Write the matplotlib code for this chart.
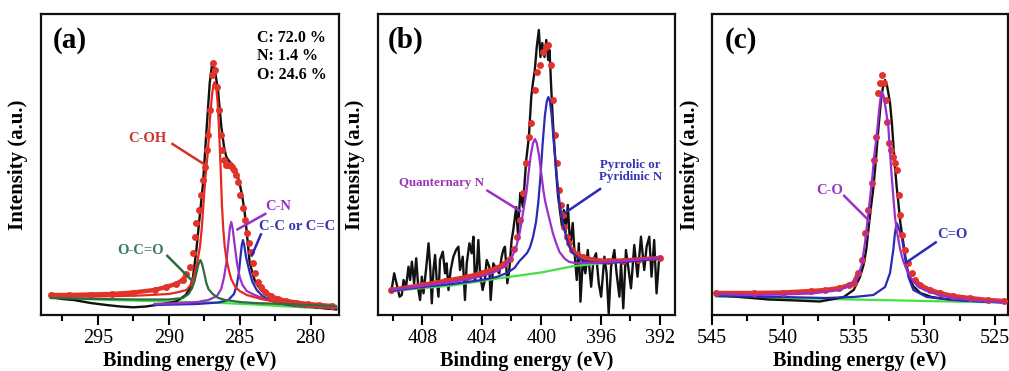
import matplotlib
matplotlib.use("Agg")
import matplotlib.pyplot as plt
import numpy as np
from matplotlib.ticker import MultipleLocator

plt.rcParams['font.family'] = ['Liberation Serif', 'DejaVu Serif']

# ---------------- Panel (a): C 1s ----------------
a_black_x = [298.3, 297.5, 296.7, 295.5, 294.4, 293.4, 292.5, 291.6, 290.9, 290.0, 289.5, 289.2, 288.8, 288.5,
             288.29, 288.05, 287.82, 287.58, 287.35, 287.11, 286.95, 286.88, 286.75, 286.53, 286.29, 286.1, 285.94,
             285.7, 285.47, 285.3, 285.12, 284.95, 284.81, 284.65, 284.53, 284.3, 284.1, 283.9, 283.5, 283.1, 282.5,
             281.5, 280.5, 279.5, 278.2]
a_black_y = [18, 16, 15, 12, 10, 8.5, 7.7, 8.5, 10, 12, 13.5, 16, 20, 27,
             38, 65, 98, 132, 182, 232, 250, 252, 245, 225, 188, 168, 158,
             153, 150, 145, 138, 128, 118, 103, 87, 53, 42, 33, 25, 20, 16,
             12, 9.5, 7.5, 5.5]

a_fit_x = [298.3, 297, 295.5, 294, 292.5, 291, 290.2, 289.5, 289.0, 288.75, 288.5, 288.3, 288.17, 288.05, 287.9,
           287.75, 287.6, 287.46, 287.33, 287.2, 287.07, 286.95, 286.85, 286.72, 286.6, 286.47, 286.35, 286.22,
           286.1, 285.95, 285.82, 285.7, 285.55, 285.4, 285.25, 285.1, 284.95, 284.8, 284.65, 284.5, 284.35, 284.2,
           284.05, 283.9, 283.7, 283.5, 283.2, 282.8, 282.3, 281.7, 281, 280.2, 279.4, 278.5]
a_fit_y = [20, 20, 20.5, 21, 22.5, 25, 28, 31, 35, 41, 48, 62, 78, 92, 105,
           120, 135, 148, 165, 180, 205, 240, 252, 245, 228, 205, 180, 165,
           155, 150, 150, 150, 148, 145, 140, 133, 120, 107, 95, 82, 72, 63,
           52, 42, 33, 28, 23, 19, 16, 14, 12.5, 11, 10, 9]

a_coh_x = [298.3, 295, 292, 290, 289.3, 288.75, 288.4, 288.2, 288.0, 287.8, 287.65, 287.52, 287.4, 287.23, 287.1,
           286.95, 286.85, 286.76, 286.65, 286.55, 286.45, 286.35, 286.25, 286.15, 286.05, 285.94, 285.75, 285.6,
           285.3, 285.0, 284.5, 283.5, 282.4, 281, 279.5, 278.2]
a_coh_y = [18, 18.5, 19.5, 21, 23, 25, 31, 40, 52, 68, 90, 118, 140, 165, 195,
           220, 230, 233, 228, 212, 185, 150, 110, 85, 68, 57, 44, 36,
           28, 24, 20, 16, 13, 10, 8, 7]

a_oco_x = [298.3, 295, 292, 290, 289, 288.6, 288.35, 288.2, 288.05, 287.9, 287.77, 287.65, 287.5, 287.35, 287.2,
           286.9, 286.5, 286, 285, 284, 282, 280, 278.2]
a_oco_y = [17, 16, 15.5, 15.5, 17, 21, 27, 33, 42, 51, 55, 51, 42, 32, 26,
           21, 17, 15, 13, 12, 11, 10, 9]

a_cn_x = [291, 289, 288, 287.2, 286.6, 286.3, 286.1, 285.94, 285.8, 285.68, 285.59, 285.5, 285.35, 285.19, 285.0,
          284.8, 284.5, 284.1, 283.6, 283, 282, 281, 280, 279, 278.2]
a_cn_y = [11, 12, 13, 15, 19, 26, 38, 52, 72, 88, 93, 87, 70, 52, 38,
          30, 24, 21, 18, 15, 12, 10, 8.5, 7.5, 7]

a_cc_x = [291, 288, 286.5, 285.8, 285.4, 285.2, 285.05, 284.93, 284.85, 284.77, 284.68, 284.55, 284.42, 284.3,
          284.1, 283.8, 283.4, 282.7, 282, 281, 280, 279, 278.2]
a_cc_y = [10, 11, 12.5, 15, 21, 30, 43, 60, 70, 75, 70, 58, 50, 43,
          33, 25, 19, 14, 11, 9, 8, 7, 6.5]

a_base_x = [298.3, 294, 290, 287, 284, 281, 278.2]
a_base_y = [17, 15, 13.5, 12.5, 10.5, 8, 6]

a_comp_text = ["C: 72.0 %", "N: 1.4 %", "O: 24.6 %"]

# ---------------- Panel (b): N 1s ----------------
b_black_x = [410.05, 409.89, 409.71, 409.53, 409.38, 409.26, 409.09, 408.93, 408.82, 408.7, 408.55, 408.41, 408.26,
             408.15, 408.03, 407.92, 407.74, 407.58, 407.47, 407.36, 407.25, 407.14, 407.03, 406.91, 406.81, 406.62,
             406.47, 406.36, 406.24, 406.09, 405.91, 405.73, 405.57, 405.46, 405.28, 405.13, 405.01, 404.83, 404.68,
             404.56, 404.46, 404.34, 404.23, 404.12, 403.94, 403.79, 403.67, 403.49, 403.4, 403.22, 403.0, 402.82,
             402.66, 402.55, 402.44, 402.28, 402.15, 401.99, 401.88, 401.68, 401.57, 401.41, 401.23, 401.01, 400.83,
             400.67, 400.56, 400.43, 400.3, 400.16, 400.05, 399.93, 399.78, 399.66, 399.53, 399.44, 399.33, 399.22,
             399.11, 398.99, 398.86, 398.72, 398.59, 398.48, 398.37, 398.21, 398.05, 397.88, 397.77, 397.61, 397.47,
             397.36, 397.2, 397.03, 396.87, 396.64, 396.49, 396.31, 396.13, 395.97, 395.75, 395.6, 395.46, 395.3,
             395.08, 394.93, 394.74, 394.63, 394.48, 394.3, 394.12, 393.96, 393.74, 393.52, 393.29, 393.07, 392.91,
             392.73, 392.58, 392.4, 392.24, 392.06, 391.95]
b_black_y = [26.7, 41.7, 30, 18.3, 20, 35, 28.3, 48.3, 35, 53.3, 31.7, 56.7, 25,
             15, 38.3, 21.7, 46.7, 71.7, 48.3, 11.7, 45, 60, 35, 18.3, 55, 63.3,
             41.7, 51.7, 25, 45, 58.3, 65, 68.3, 45, 58.3, 15, 51.7, 71.7, 61.7,
             78.3, 35, 45, 75, 41.7, 25, 35, 55, 48.3, 15, 51.7, 45, 41.7,
             58.3, 65, 68.3, 31.7, 45, 75, 85, 108, 82, 122, 108, 155, 178,
             218, 232, 245, 268, 285, 258, 272, 258, 275, 255, 265, 228, 195,
             168, 142, 118, 102, 88, 105, 82, 110, 68, 92, 65, 35, 71.7,
             13.3, 55, 41.7, 65, 28.3, 55, 61.7, 31.7, 18.3, 58.3, 41.7, 1.7, 48.3,
             65, 41.7, 18.3, 51.7, 6.7, 65, 45, 26.7, 70, 38.3, 78.3, 45, 68.3,
             78.3, 38.3, 75, 21.7, 58.3, 55]

b_fit_x = [410.1, 408, 406.5, 405, 404, 403, 402.5, 402.1, 401.8, 401.6, 401.4, 401.23, 401.0, 400.8, 400.67,
           400.45, 400.25, 400.1, 399.9, 399.7, 399.56, 399.37, 399.2, 399.05, 398.93, 398.82, 398.68, 398.55,
           398.44, 398.25, 398.1, 397.9, 397.6, 397.2, 396.5, 395.5, 394.5, 393.5, 392]
b_fit_y = [25, 30, 34, 38, 42, 47, 51, 56, 66, 78, 95, 122, 152, 178, 192,
           225, 243, 250, 263, 268, 270, 250, 215, 180, 152, 125, 110, 100,
           88, 78, 72, 65, 61, 58, 55, 54, 54.5, 55.5, 57]

b_quat_x = [410.1, 408, 406, 404.5, 403.3, 402.5, 402.0, 401.7, 401.45, 401.3, 401.12, 401.0, 400.85, 400.7,
            400.55, 400.42, 400.3, 400.15, 400.0, 399.85, 399.71, 399.55, 399.4, 399.22, 399.0, 398.77, 398.4,
            398.1, 397.7, 397, 396, 395, 394, 393, 392]
b_quat_y = [25, 29, 33, 37, 42, 48, 57, 67, 82, 95, 112, 122, 142, 160,
            172, 176, 172, 160, 142, 124, 112, 102, 93, 82, 72, 63, 56,
            53, 52, 52, 52.5, 53.5, 54.5, 56, 57]

b_pyr_x = [410.1, 408, 406, 404, 403, 402.3, 401.8, 401.46, 401.2, 400.95, 400.75, 400.55, 400.35, 400.2, 400.07,
           399.9, 399.75, 399.62, 399.52, 399.42, 399.3, 399.15, 398.93, 398.75, 398.55, 398.32, 398.1, 397.88,
           397.43, 397, 396, 395, 394, 393, 392]
b_pyr_y = [24, 28, 31, 35, 38, 42, 47, 54, 58, 62, 68, 78, 93, 112, 135,
           172, 200, 214, 218, 214, 200, 172, 135, 110, 92, 78, 68, 62,
           56, 53.5, 52, 52.5, 53.5, 55, 57]

b_base_x = [410.1, 406, 402.7, 400, 397.8, 395, 392]
b_base_y = [24, 29.5, 37, 42.5, 49, 53, 57]

# ---------------- Panel (c): O 1s ----------------
c_black_x = [544.7, 543, 541, 539, 537.4, 536.4, 535.7, 535.0, 534.55, 534.3, 534.1, 533.96, 533.8, 533.6, 533.43,
             533.26, 533.1, 533.0, 532.9, 532.78, 532.65, 532.55, 532.43, 532.3, 532.2, 532.08, 531.96, 531.84,
             531.7, 531.49, 531.25, 531.0, 530.8, 530.3, 529.5, 528.5, 527, 525.5, 524.4]
c_black_y = [20, 18, 15.5, 14.5, 13.5, 16, 18, 25, 38, 50, 66, 85, 105, 128, 155,
             185, 210, 222, 230, 235, 230, 222, 212, 192, 172, 148, 128, 112,
             92, 72, 48, 36, 29, 22, 18, 16, 14.5, 13.5, 13]

c_fit_x = [544.7, 542, 540, 538, 537, 536, 535.3, 535.0, 534.67, 534.43, 534.2, 533.96, 533.72, 533.55, 533.4,
           533.26, 533.12, 533.0, 532.85, 532.72, 532.62, 532.48, 532.34, 532.2, 532.08, 531.96, 531.8, 531.72,
           531.6, 531.37, 531.13, 530.9, 530.7, 530.3, 529.6, 528.9, 528, 526.8, 525.5, 524.4]
c_fit_y = [22, 22, 22.5, 24, 25, 27, 30, 32, 42, 55, 82, 105, 132, 155, 178,
           222, 232, 240, 232, 215, 193, 172, 165, 158, 152, 145, 120, 100,
           80, 65, 52, 42, 35, 30, 25, 22, 19, 17, 15, 14]

c_co_x = [544.7, 542, 540, 538, 536.5, 536, 535.3, 534.8, 534.43, 534.2, 533.96, 533.72, 533.55, 533.37, 533.2,
          533.1, 533.0, 532.9, 532.75, 532.55, 532.31, 532.08, 531.9, 531.72, 531.5, 531.25, 530.9, 530.5, 530,
          529, 528, 526.8, 525.5, 524.4]
c_co_y = [21, 20, 20.5, 21.5, 24, 25, 29, 35, 50, 72, 102, 132, 158, 180, 205,
          217, 223, 220, 208, 188, 138, 98, 80, 66, 54, 45, 36, 29, 25,
          20, 17, 15, 13.5, 12.5]

c_c2o_x = [544.7, 540, 537, 535, 533.6, 532.78, 532.43, 532.2, 532.08, 531.96, 531.84, 531.6, 531.37, 531.13,
           530.78, 529.84, 528, 526, 524.4]
c_c2o_y = [19, 18, 17, 18, 20, 28, 42, 65, 82, 92, 88, 78, 58, 38,
           25, 18, 15, 13.5, 12.5]

c_base_x = [544.7, 540, 535, 530, 524.4]
c_base_y = [18.5, 17, 15.5, 14, 12.5]

# ---------------- styling ----------------
BLACK = '#111111'
RED = '#e8281e'
DOT = '#e2332b'
DKGREEN = '#2e6b40'
PURPLE = '#9a30c8'
BLUE = '#2a2ab4'
LIME = '#44e044'

fig = plt.figure(figsize=(10.09, 3.71), dpi=100)
W, H = 1009.0, 371.0
bottom = 1 - 315 / H
height = 301 / H
ax_a = fig.add_axes([41 / W, bottom, 298 / W, height])
ax_b = fig.add_axes([377.7 / W, bottom, 297.3 / W, height])
ax_c = fig.add_axes([712 / W, bottom, 296 / W, height])


def style(ax, xlim, major, minor):
    ax.set_xlim(*xlim)
    ax.set_ylim(0, 301)
    ax.xaxis.set_major_locator(MultipleLocator(major))
    ax.xaxis.set_minor_locator(MultipleLocator(minor))
    ax.set_yticks([])
    for s in ax.spines.values():
        s.set_linewidth(1.6)
        s.set_color('#111111')
    ax.tick_params(axis='x', which='major', direction='out', length=7, width=1.5,
                   labelsize=14.5, pad=3, top=False)
    ax.tick_params(axis='x', which='minor', direction='out', length=4.5, width=1.5, top=False)
    ax.set_xlabel('Binding energy (eV)', fontsize=14.5, fontweight='bold', labelpad=2)
    ax.set_ylabel('Intensity (a.u.)', fontsize=15, fontweight='bold', labelpad=9)


def fit(ax, x, y, tail_hi, tail_lo, z=6):
    # fitted envelope drawn as dots; dense dots in the slowly varying tails read as a thick band
    x = np.asarray(x, float)
    y = np.asarray(y, float)
    hi = x >= tail_hi
    lo = x <= tail_lo
    ax.plot(x[hi], y[hi], color=DOT, lw=3.2, zorder=z, solid_capstyle='round')
    ax.plot(x[lo], y[lo], color=DOT, lw=3.2, zorder=z, solid_capstyle='round')
    ax.plot(x, y, 'o', color=DOT, ms=5, mew=0, zorder=z)


def leader(ax, p0, p1, color):
    ax.plot([p0[0], p1[0]], [p0[1], p1[1]], color=color, lw=1.8, zorder=8, solid_capstyle='butt')


lab_kw = dict(fontweight='bold', ha='center', va='center', zorder=9)

# ---- (a)
ax = ax_a
ax.plot(a_base_x, a_base_y, color=LIME, lw=1.6, zorder=2)
ax.plot(a_black_x, a_black_y, color=BLACK, lw=1.7, zorder=3)
ax.plot(a_cc_x, a_cc_y, color=BLUE, lw=1.6, zorder=4)
ax.plot(a_cn_x, a_cn_y, color=PURPLE, lw=1.6, zorder=4)
ax.plot(a_coh_x, a_coh_y, color=RED, lw=1.6, zorder=5)
fit(ax, a_fit_x, a_fit_y, 288.7, 283.6)
ax.plot(a_oco_x, a_oco_y, color=DKGREEN, lw=1.6, zorder=7)
style(ax, (299, 278), 5, 2.5)
ax.text(296.97, 275, '(a)', fontsize=21, fontweight='bold', ha='center', va='center')
for i, t in enumerate(a_comp_text):
    ax.text(283.8, [277, 259, 240][i], t, fontsize=11.5, fontweight='bold', ha='left', va='center')
ax.text(291.48, 176, 'C-OH', color='#d0302a', fontsize=10.5, **lab_kw)
leader(ax, (289.81, 171.7), (287.42, 150), '#d8302a')
ax.text(282.32, 108, 'C-N', color=PURPLE, fontsize=10.5, **lab_kw)
leader(ax, (283.12, 101.7), (285.23, 85), PURPLE)
ax.text(280.92, 88, 'C-C or C=C', color='#3333b4', fontsize=10.5, **lab_kw)
leader(ax, (283.47, 81.7), (284.18, 58.3), BLUE)
ax.text(291.97, 65, 'O-C=O', color='#3a7d5c', fontsize=10.5, **lab_kw)
leader(ax, (290.16, 60), (288.4, 35), DKGREEN)

# ---- (b)
ax = ax_b
ax.plot(b_black_x, b_black_y, color=BLACK, lw=1.7, zorder=2)
ax.plot(b_base_x, b_base_y, color=LIME, lw=1.6, zorder=3)
fit(ax, b_fit_x, b_fit_y, 401.9, 397.8, z=4)
ax.plot(b_pyr_x, b_pyr_y, color=BLUE, lw=1.6, zorder=5)
ax.plot(b_quat_x, b_quat_y, color=PURPLE, lw=1.6, zorder=6)
style(ax, (411, 391), 4, 2)
ax.text(409.11, 275, '(b)', fontsize=21, fontweight='bold', ha='center', va='center')
ax.text(406.69, 132, 'Quanternary N', color='#9b34b8', fontsize=9.3, **lab_kw)
leader(ax, (403.69, 125), (401.34, 103.3), PURPLE)
ax.text(394.0, 144, 'Pyrrolic or\nPyridinic N', color='#3535b2', fontsize=9.3, linespacing=0.95, **lab_kw)
leader(ax, (395.97, 126.7), (398.44, 101.7), BLUE)

# ---- (c)
ax = ax_c
ax.plot(c_base_x, c_base_y, color=LIME, lw=1.6, zorder=2)
ax.plot(c_black_x, c_black_y, color=BLACK, lw=1.7, zorder=3)
ax.plot(c_c2o_x, c_c2o_y, color=BLUE, lw=1.6, zorder=4)
fit(ax, c_fit_x, c_fit_y, 534.6, 530.8, z=5)
ax.plot(c_co_x, c_co_y, color=PURPLE, lw=1.6, zorder=6)
style(ax, (545, 524.1), 5, 2.5)
ax.text(542.95, 275, '(c)', fontsize=21, fontweight='bold', ha='center', va='center')
ax.text(536.67, 125, 'C-O', color='#9535c0', fontsize=10.5, **lab_kw)
leader(ax, (535.73, 120), (533.84, 93.3), PURPLE)
ax.text(528.05, 80, 'C=O', color='#3535b8', fontsize=10.5, **lab_kw)
leader(ax, (529.13, 73.3), (531.37, 51.7), BLUE)

fig.savefig('out.png', dpi=100)
